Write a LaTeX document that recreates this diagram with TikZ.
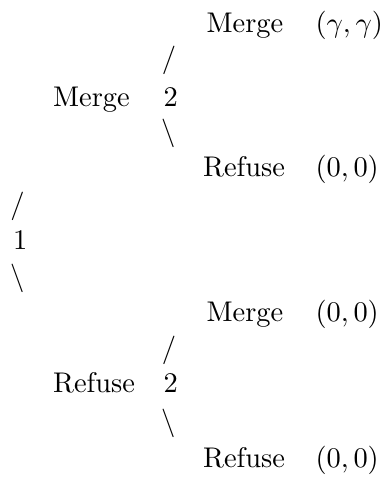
\documentclass[tikz,border=0pt]{standalone}
\begin{document}
\begin{tikzpicture}[x=0.3515pt,y=-0.3515pt,
  lbl/.style={inner sep=0pt,anchor=base west},
  sl/.style={inner sep=0pt,anchor=center}]
\useasboundingbox (0,0) rectangle (388,480);
% root
\node[lbl] (root) at (12.5,249) {1};
\node[sl] (r1) at (17.5,206) {$/$};
\node[sl] (r2) at (17.5,278) {$\backslash$};
% upper subtree
\node[lbl] (aM) at (52.5,106) {Merge};
\node[lbl] (a2) at (163,106) {2};
\node[sl] (aU) at (169,60) {$/$};
\node[sl] (aD) at (169,133) {$\backslash$};
\node[lbl] (aMM) at (206,33) {Merge};
\node[lbl] (aMMp) at (315,33) {$(\gamma,\gamma)$};
\node[lbl] (aMR) at (202.5,176) {Refuse};
\node[lbl] (aMRp) at (315,176) {$(0,0)$};
% lower subtree
\node[lbl] (bR) at (52.5,392) {Refuse};
\node[lbl] (b2) at (163,392) {2};
\node[sl] (bU) at (169,350) {$/$};
\node[sl] (bD) at (169,423) {$\backslash$};
\node[lbl] (bRM) at (206,321) {Merge};
\node[lbl] (bRMp) at (315,321) {$(0,0)$};
\node[lbl] (bRR) at (202.5,467) {Refuse};
\node[lbl] (bRRp) at (315,467) {$(0,0)$};
\end{tikzpicture}
\end{document}
